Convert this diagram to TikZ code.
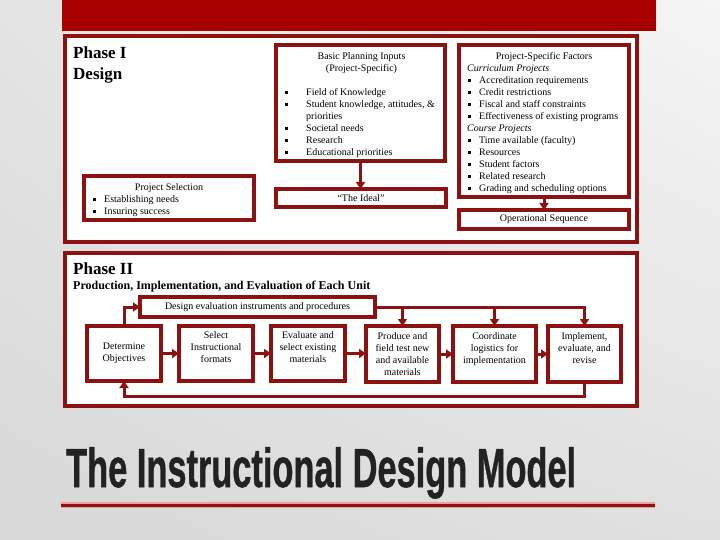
\documentclass[tikz,border=0pt]{standalone}
\usepackage{fontspec}
\usepackage{graphicx}
\setmainfont{Liberation Serif}
\newfontfamily\ttlfont{Liberation Sans}[UprightFont=* Bold, FakeBold=1]
\usetikzlibrary{arrows.meta,shadings}
\definecolor{barred}{RGB}{168,0,0}
\definecolor{frred}{RGB}{140,18,18}
\definecolor{ttlgray}{RGB}{34,34,34}
\definecolor{glow}{RGB}{236,160,160}
\definecolor{bgA}{RGB}{228,228,228}
\definecolor{bgB}{RGB}{245,245,245}
\definecolor{bgC}{RGB}{216,216,216}
\definecolor{bgD}{RGB}{224,224,224}
\newcommand\bli[1]{\makebox[#1][l]{\hspace{1pt}\rule[2pt]{2.3pt}{2.3pt}}}
\tikzset{
  frm/.style={draw=frred, line width=3.3pt, fill=white, inner sep=0pt, outer sep=0pt},
  bx/.style={draw=frred, line width=3.1pt, fill=white, inner sep=0pt, outer sep=0pt,
             font=\fontsize{10}{12}\selectfont, align=center},
  txt/.style={inner sep=0pt, font=\fontsize{10}{12}\selectfont},
  conn/.style={draw=frred, line width=3pt},
  arr/.style={conn, -{Triangle[length=7pt,width=9pt]}},
  ptitle/.style={inner sep=0pt, font=\fontsize{17}{21}\selectfont\bfseries},
}
\begin{document}
\begin{tikzpicture}[x=1pt,y=-1pt]
\useasboundingbox (0,0) rectangle (720,540);
\shade[upper left=bgA, upper right=bgB, lower left=bgC, lower right=bgD] (0,0) rectangle (720,540);
\fill[barred] (62,0) rectangle (656,31);

% ---------- Phase I ----------
\node[frm, minimum width=572, minimum height=206] (f1) at (351,139) {};
\node[ptitle, anchor=north west, align=left] (p1t) at (73,43.3) {\strut Phase I\\Design};

\node[bx, minimum width=169, minimum height=116] (bpi) at (360.5,103) {};
\node[txt, anchor=north, align=center] (bpit) at (361.5,51.1) {\strut Basic Planning Inputs\\(Project-Specific)};
\node[txt, anchor=north west, align=left] (bpil) at (284,87.1) {\strut\bli{22pt}Field of Knowledge\\
\bli{22pt}Student knowledge, attitudes, \&\\
\hspace*{22pt}priorities\\
\bli{22pt}Societal needs\\
\bli{22pt}Research\\
\bli{22pt}Educational priorities};

\node[bx, minimum width=170, minimum height=18] (ideal) at (361,198) {“The Ideal”};
\draw[arr] (bpi.south) -- (bpi.south |- ideal.north);

\node[bx, minimum width=170, minimum height=152] (psf) at (544,121) {};
\node[txt, anchor=north] (psft) at (544,51.1) {\strut Project-Specific Factors};
\node[txt, anchor=north west, align=left] (psfl) at (467,63.1) {\strut\textit{Curriculum Projects}\\
\bli{12pt}Accreditation requirements\\
\bli{12pt}Credit restrictions\\
\bli{12pt}Fiscal and staff constraints\\
\bli{12pt}Effectiveness of existing programs\\
\textit{Course Projects}\\
\bli{12pt}Time available (faculty)\\
\bli{12pt}Resources\\
\bli{12pt}Student factors\\
\bli{12pt}Related research\\
\bli{12pt}Grading and scheduling options};

\node[bx, minimum width=170, minimum height=19] (ops) at (544,219.5) {Operational Sequence};
\draw[arr] (psf.south) -- (ops.north);

\node[bx, minimum width=170, minimum height=44] (ps) at (169,198) {};
\node[txt, anchor=north] (pst) at (169,182.1) {\strut Project Selection};
\node[txt, anchor=north west, align=left] (psl) at (92,194.1) {\strut\bli{12pt}Establishing needs\\
\bli{12pt}Insuring success};

% ---------- Phase II ----------
\node[frm, minimum width=572, minimum height=153] (f2) at (351,329.5) {};
\node[ptitle, anchor=base west] (p2t) at (73,274) {Phase II};
\node[inner sep=0pt, anchor=base west, font=\fontsize{12}{14}\selectfont\bfseries] (p2s) at (73,289)
  {Production, Implementation, and Evaluation of Each Unit};

\node[bx, minimum width=235, minimum height=20] (dei) at (257.5,307) {Design evaluation instruments and procedures};

\node[bx, minimum width=74, minimum height=55] (det) at (124,353.5) {Determine\\Objectives};
\node[bx, minimum width=74, minimum height=55] (sel) at (216,353.5) {Select\\Instructional\\formats\\\mbox{}};
\node[bx, minimum width=74, minimum height=55] (eva) at (308,353.5) {Evaluate and\\select existing\\materials\\\mbox{}};
\node[bx, minimum width=73, minimum height=56] (prod) at (402.5,354) {Produce and\\field test new\\and available\\materials};
\node[bx, minimum width=83, minimum height=56] (coord) at (494.5,354) {Coordinate\\logistics for\\implementation\\\mbox{}};
\node[bx, minimum width=73, minimum height=56] (impl) at (584.5,354) {Implement,\\evaluate, and\\revise\\\mbox{}};

\draw[arr] (det.east) -- (sel.west);
\draw[arr] (sel.east) -- (eva.west);
\draw[arr] (eva.east) -- (eva.east -| prod.west);
\draw[arr] (prod.east) -- (prod.east -| coord.west);
\draw[arr] (coord.east) -- (coord.east -| impl.west);

\draw[arr] (impl.south) -- ++(0,14) -| (det.south);
\draw[arr] (det.north) |- (dei.west);
\draw[arr] (dei.east) -| (impl.north);
\draw[arr] (dei.east -| prod.north) -- (prod.north);
\draw[arr] (dei.east -| coord.north) -- (coord.north);

% ---------- Title ----------
\node[inner sep=0pt, anchor=base west, text=ttlgray] (ttl) at (66,487)
  {\scalebox{0.625}[1]{\fontsize{55}{55}\selectfont\ttlfont The Instructional Design Model}};
\draw[line width=5.5pt, glow] (61,505) -- (655,505);
\draw[line width=3pt, frred] (61,505) -- (655,505);
\end{tikzpicture}
\end{document}
